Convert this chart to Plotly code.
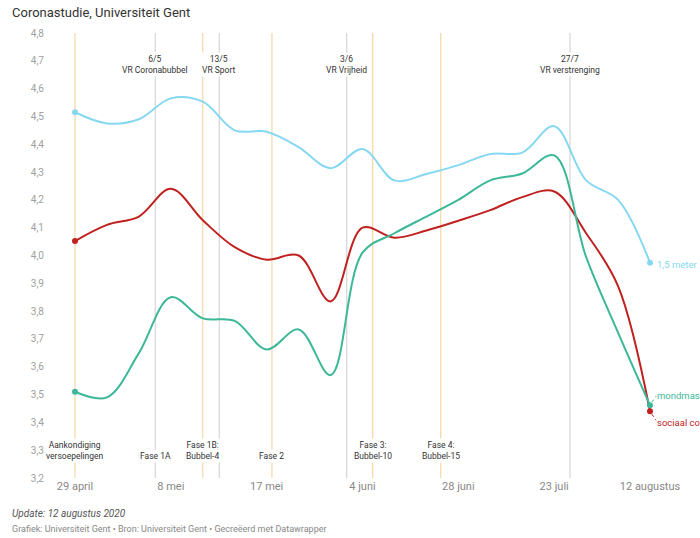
import plotly.graph_objects as go

# ---- data (wave index in thirds of a tick interval) ----
wave = [k / 3 for k in range(19)]
meter_15 = [4.515, 4.475, 4.49, 4.565, 4.553, 4.45, 4.445, 4.39, 4.314, 4.383,
            4.27, 4.293, 4.325, 4.365, 4.37, 4.465, 4.27, 4.20, 3.974]
sociaal = [4.052, 4.11, 4.14, 4.24, 4.127, 4.03, 3.985, 4.00, 3.835, 4.10,
           4.064, 4.09, 4.125, 4.163, 4.21, 4.23, 4.08, 3.89, 3.44]
mondmasker = [3.51, 3.49, 3.649, 3.85, 3.774, 3.765, 3.662, 3.734, 3.57, 4.01,
              4.08, 4.14, 4.20, 4.27, 4.295, 4.36, 3.995, 3.723, 3.462]

tick_pos = [0, 1, 2, 3, 4, 5, 6]
tick_labels = ["29 april", "8 mei", "17 mei", "4 juni", "28 juni", "23 juli", "12 augustus"]

# events: position, kind, label, side
event_pos = [0.0, 0.838, 1.333, 1.506, 2.055, 2.835, 3.106, 3.816, 5.165]
event_kind = ["fase", "vr", "fase", "vr", "fase", "vr", "fase", "fase", "vr"]
event_top = ["", "6/5<br>VR Coronabubbel", "", "13/5<br>VR Sport", "", "3/6<br>VR Vrijheid", "", "", "27/7<br>VR verstrenging"]
event_bottom = ["Aankondiging<br>versoepelingen", "Fase 1A", "Fase 1B:<br>Bubbel-4", "", "Fase 2", "",
                "Fase 3:<br>Bubbel-10", "Fase 4:<br>Bubbel-15", ""]

C_BLUE = "#86d8f2"
C_TEAL = "#3cb899"
C_RED = "#c0211f"
C_ORANGE = "#f8d9ac"
C_GREY = "#d9d9d9"

W, H = 700, 538
L, T = 45, 33
plot_bottom = 478
plot_right = 660
R, B = W - plot_right, H - plot_bottom
pw, ph = W - L - R, H - T - B
px_per_u = (650 - 75) / 6
x0u = (L - 75) / px_per_u
x1u = (plot_right - 75) / px_per_u

def px(xp):  # page pixel -> paper
    return (xp - L) / pw

def py(yp):  # page pixel -> paper
    return (plot_bottom - yp) / ph

fig = go.Figure()
series = [("1,5 meter", meter_15, C_BLUE), ("sociaal contact", sociaal, C_RED), ("mondmasker", mondmasker, C_TEAL)]
for name, vals, col in series:
    fig.add_trace(go.Scatter(x=wave, y=vals, mode="lines", name=name,
                             line=dict(color=col, width=2, shape="spline", smoothing=1),
                             hoverinfo="skip"))
    fig.add_trace(go.Scatter(x=[wave[0], wave[-1]], y=[vals[0], vals[-1]], mode="markers",
                             marker=dict(color=col, size=6), hoverinfo="skip"))

shapes = []
annos = []
for p, kind, top, bot in zip(event_pos, event_kind, event_top, event_bottom):
    col = C_ORANGE if kind == "fase" else C_GREY
    shapes.append(dict(type="line", xref="x", yref="y", x0=p, x1=p, y0=3.2, y1=4.8,
                       line=dict(color=col, width=1.3), layer="below"))
    if top:
        annos.append(dict(x=p, xref="x", y=py(52), yref="paper", text=top, showarrow=False,
                          font=dict(size=8.5, color="#333"), bgcolor="white", borderpad=1,
                          align="center"))
    if bot:
        annos.append(dict(x=p, xref="x", y=py(463), yref="paper", text=bot, showarrow=False,
                          font=dict(size=8.5, color="#333"), bgcolor="white", borderpad=1,
                          align="center"))

# end labels
annos.append(dict(x=wave[-1], y=meter_15[-1], xref="x", yref="y", text="1,5 meter", showarrow=False,
                  xanchor="left", xshift=5, yshift=-2, font=dict(size=9.5, color=C_BLUE)))
annos.append(dict(x=wave[-1], y=mondmasker[-1], xref="x", yref="y", text="mondmasker", showarrow=False,
                  xanchor="left", xshift=5, yshift=10, font=dict(size=9.5, color=C_TEAL)))
annos.append(dict(x=wave[-1], y=sociaal[-1], xref="x", yref="y", text="sociaal contact", showarrow=False,
                  xanchor="left", xshift=5, yshift=-11, font=dict(size=9.5, color=C_RED)))
shapes.append(dict(type="line", xref="x", yref="y", xsizemode="pixel", ysizemode="pixel",
                   xanchor=wave[-1], yanchor=mondmasker[-1], x0=2, x1=6, y0=3, y1=9,
                   line=dict(color=C_TEAL, width=1, dash="dot")))
shapes.append(dict(type="line", xref="x", yref="y", xsizemode="pixel", ysizemode="pixel",
                   xanchor=wave[-1], yanchor=sociaal[-1], x0=2, x1=6, y0=-3, y1=-9,
                   line=dict(color=C_RED, width=1, dash="dot")))

# title & footer
annos.append(dict(x=px(10), y=py(13), xref="paper", yref="paper", text="Coronastudie, Universiteit Gent",
                  showarrow=False, xanchor="left", yanchor="middle", font=dict(size=13, color="#333")))
annos.append(dict(x=px(10), y=py(513), xref="paper", yref="paper", text="<i>Update: 12 augustus 2020</i>",
                  showarrow=False, xanchor="left", yanchor="middle", font=dict(size=10, color="#555")))
annos.append(dict(x=px(10), y=py(529), xref="paper", yref="paper",
                  text="Grafiek: Universiteit Gent • Bron: Universiteit Gent • Gecreëerd met Datawrapper",
                  showarrow=False, xanchor="left", yanchor="middle", font=dict(size=9, color="#888")))

fig.update_layout(
    width=W, height=H, margin=dict(l=L, r=R, t=T, b=B),
    paper_bgcolor="white", plot_bgcolor="white", showlegend=False,
    separators=",.",
    font=dict(family="Roboto", color="#333"),
    shapes=shapes, annotations=annos,
    xaxis=dict(range=[x0u, x1u], tickvals=tick_pos, ticktext=tick_labels, showgrid=False,
               zeroline=False, showline=False, ticks="", tickfont=dict(size=11, color="#888")),
    yaxis=dict(range=[3.2, 4.8], dtick=0.1, tick0=3.2, tickformat=".1f", showgrid=False,
               zeroline=False, showline=False, ticks="", tickfont=dict(size=10, color="#a0a0a0")),
)
fig.write_html("out.html", config={"displayModeBar": False},
               post_script="document.body.style.margin='0';document.body.style.overflow='hidden';")
